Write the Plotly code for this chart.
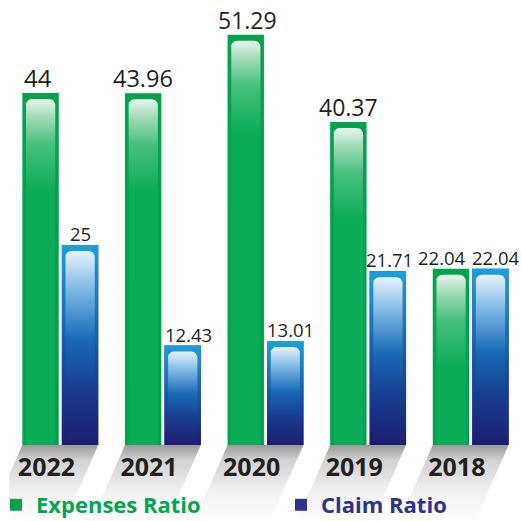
import math
import plotly.graph_objects as go

# ---------------- data ----------------
years = ["2022", "2021", "2020", "2019", "2018"]
expenses_ratio = [44, 43.96, 51.29, 40.37, 22.04]
claim_ratio = [25, 12.43, 13.01, 21.71, 22.04]

# ---------------- styles ----------------
GREEN_LABEL_SIZES = [24, 23.5, 23, 23, 18.5]
BLUE_LABEL_SIZE = 18.5
GREEN_LABEL_XSHIFT = [-3, 0, 2, 0, -9]
BLUE_LABEL_XSHIFT = [0, 6, 5, 2, 6]
TEXT_COLOR = "#231f20"
FONT = "Open Sans"

W, H = 522, 521
M_L, M_R = 9, 0
BASE_PX = 445                    # pixel row of the bars' base
PX_PER_Y = 8.0
Y_MAX = BASE_PX / PX_PER_Y
Y_MIN = -(H - BASE_PX) / PX_PER_Y
X_RANGE = [-0.5, len(years) - 0.5]
PX_PER_X = (W - M_L - M_R) / (X_RANGE[1] - X_RANGE[0])

BAR_W = 0.355
GAP = 0.03
G_OFF = -GAP / 2 - BAR_W
B_OFF = GAP / 2

SIDE_INSET = 3.5 / PX_PER_X
TOP_INSET = 6 / PX_PER_Y
RAD_X = 6 / PX_PER_X
RAD_Y = 6 / PX_PER_Y

xs = list(range(len(years)))


def rounded_top(x0, x1, top, steps=6):
    px, py = [x0], [0]
    for k in range(steps + 1):
        a = math.pi - (math.pi / 2) * k / steps
        px.append(x0 + RAD_X + RAD_X * math.cos(a))
        py.append(top - RAD_Y + RAD_Y * math.sin(a))
    for k in range(steps + 1):
        a = math.pi / 2 - (math.pi / 2) * k / steps
        px.append(x1 - RAD_X + RAD_X * math.cos(a))
        py.append(top - RAD_Y + RAD_Y * math.sin(a))
    px += [x1, x0]
    py += [0, 0]
    return px, py


def poly_trace(px, py, colorscale, start, stop):
    return go.Scatter(
        x=px, y=py, mode="lines", fill="toself",
        line=dict(width=0, color="rgba(0,0,0,0)"),
        fillgradient=dict(type="vertical", colorscale=colorscale, start=start, stop=stop),
        hoverinfo="skip", showlegend=False,
    )


fig = go.Figure()

fig.add_trace(go.Bar(
    x=xs, y=expenses_ratio, width=BAR_W, offset=G_OFF,
    name="<b><span style='color:#00a651'>Expenses Ratio</span></b>",
    legend="legend",
    marker=dict(color="#02a24f", line=dict(width=0)),
    hoverinfo="skip",
))
fig.add_trace(go.Bar(
    x=xs, y=claim_ratio, width=BAR_W, offset=B_OFF,
    name="<b><span style='color:#2e3192'>Claim Ratio</span></b>",
    legend="legend2",
    marker=dict(color="#2e3192", line=dict(width=0)),
    hoverinfo="skip",
))

# floor shadows under each pair of bars
SH_DX = 0.44 * (H - BASE_PX) / PX_PER_X
shadow_cs = [[0, "#ffffff"], [0.4, "#f0f0f0"], [0.8, "#d2d2d2"], [1, "#9a9a9a"]]
for i in xs:
    xl = i + G_OFF
    xr = i + B_OFF + BAR_W
    fig.add_trace(poly_trace(
        [xl, xr, xr - SH_DX, xl - SH_DX, xl],
        [0, 0, Y_MIN, Y_MIN, 0],
        shadow_cs, Y_MIN, 0))

# glossy highlights on the bars
green_cs = [[0, "#0bad59"], [0.5, "#45bf7c"], [0.82, "#a6dcbc"], [1, "#e9f6ee"]]
blue_outer_cs = [[0, "#201b6c"], [0.45, "#1552a5"], [1, "#1ba0dc"]]
blue_inner_cs = [[0, "#1e1e70"], [0.3, "#173f91"], [0.55, "#1a6bb7"],
                 [0.8, "#7db9e4"], [1, "#e8f2fa"]]

for i, v in zip(xs, expenses_ratio):
    x0 = i + G_OFF + SIDE_INSET
    x1 = i + G_OFF + BAR_W - SIDE_INSET
    top = v - TOP_INSET
    px, py = rounded_top(x0, x1, top)
    fig.add_trace(poly_trace(px, py, green_cs, top - 11.5, top))

for i, v in zip(xs, claim_ratio):
    bx0 = i + B_OFF
    bx1 = i + B_OFF + BAR_W
    fig.add_trace(poly_trace([bx0, bx1, bx1, bx0, bx0], [0, 0, v, v, 0],
                             blue_outer_cs, 0, v))
    top = v - TOP_INSET
    px, py = rounded_top(bx0 + SIDE_INSET, bx1 - SIDE_INSET, top)
    fig.add_trace(poly_trace(px, py, blue_inner_cs, 0, top))

# value labels above the bars
annotations = []
for i, v in enumerate(expenses_ratio):
    annotations.append(dict(
        x=i + G_OFF + BAR_W / 2, y=v, xref="x", yref="y",
        text=f"{v:g}", showarrow=False, yanchor="bottom", xanchor="center",
        xshift=GREEN_LABEL_XSHIFT[i], yshift=-3,
        font=dict(family=FONT, size=GREEN_LABEL_SIZES[i], color=TEXT_COLOR),
    ))
for i, v in enumerate(claim_ratio):
    annotations.append(dict(
        x=i + B_OFF + BAR_W / 2, y=v, xref="x", yref="y",
        text=f"{v:g}", showarrow=False, yanchor="bottom", xanchor="center",
        xshift=BLUE_LABEL_XSHIFT[i], yshift=-3,
        font=dict(family=FONT, size=BLUE_LABEL_SIZE, color=TEXT_COLOR),
    ))

legend_style = dict(
    orientation="h", xref="container", yref="container",
    yanchor="middle", y=(H - 505) / H, xanchor="left",
    font=dict(family=FONT, size=22), indentation=-4,
    bgcolor="rgba(0,0,0,0)", borderwidth=0,
)

fig.update_layout(
    width=W, height=H,
    margin=dict(l=M_L, r=M_R, t=0, b=0, autoexpand=False),
    paper_bgcolor="white", plot_bgcolor="white",
    barmode="overlay",
    showlegend=True,
    annotations=annotations,
    legend=dict(legend_style, x=0),
    legend2=dict(legend_style, x=285 / W),
    xaxis=dict(
        range=X_RANGE,
        tickmode="array",
        tickvals=[i - 0.135 for i in xs],
        ticktext=years,
        anchor="free", position=(H - BASE_PX) / H,
        showgrid=False, zeroline=False, showline=False, ticks="",
        tickfont=dict(family=FONT, size=25, color=TEXT_COLOR, weight="bold"),
        ticklabelstandoff=5,
        fixedrange=True,
    ),
    yaxis=dict(range=[Y_MIN, Y_MAX], visible=False, fixedrange=True),
)

fig.write_html("out.html")
